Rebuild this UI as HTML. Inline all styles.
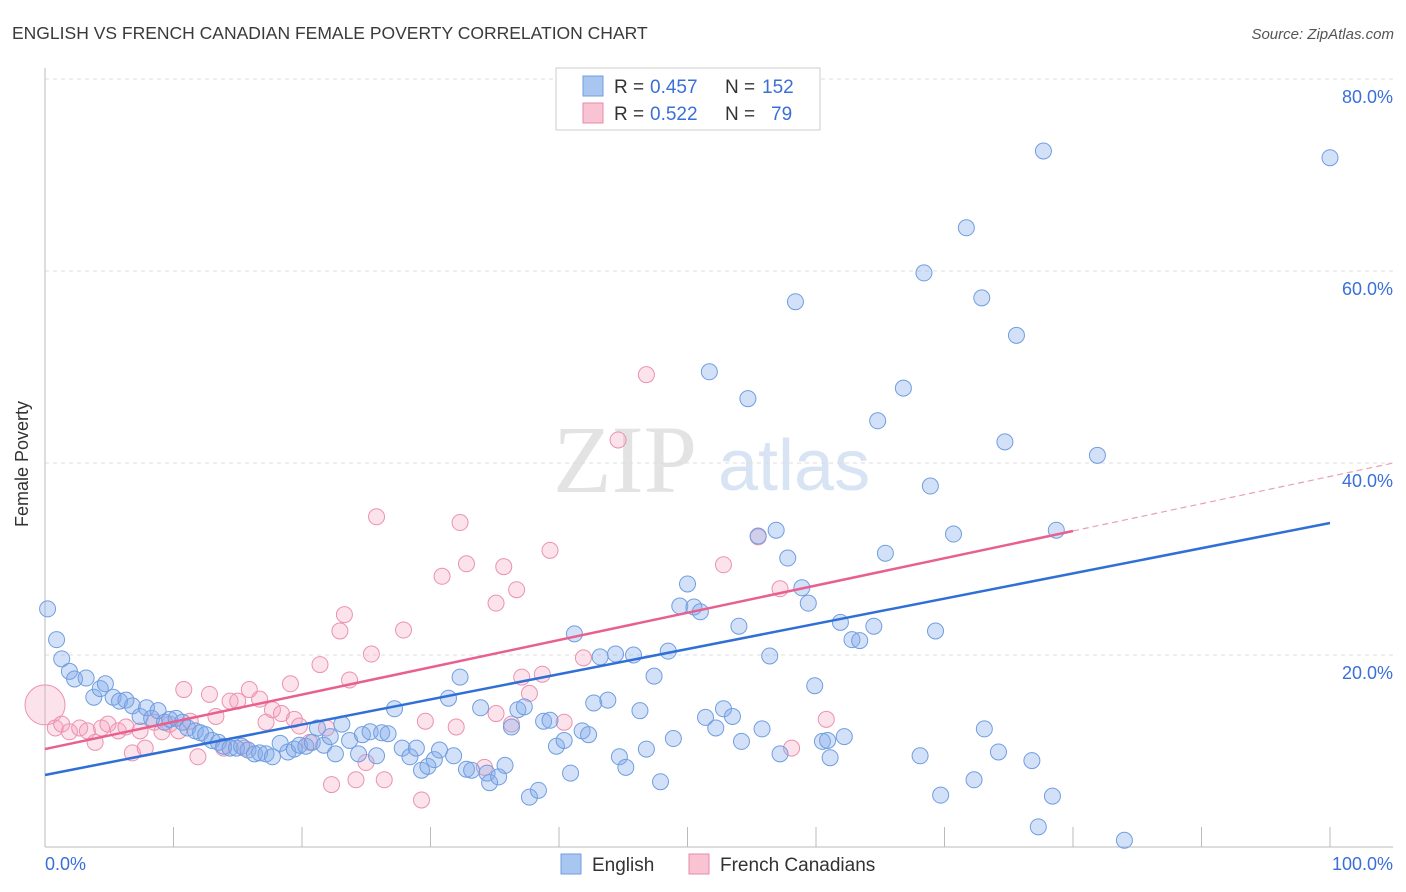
<!DOCTYPE html>
<html><head><meta charset="utf-8"><style>
body{margin:0;background:#fff;font-family:"Liberation Sans",sans-serif;}
svg{display:block}
</style></head><body>
<svg id="chart" width="1406" height="892" xmlns="http://www.w3.org/2000/svg">
<text x="12" y="39" font-size="17.5" fill="#3a3a3a">ENGLISH VS FRENCH CANADIAN FEMALE POVERTY CORRELATION CHART</text>
<text x="1394" y="39" font-size="15" fill="#555" font-style="italic" text-anchor="end">Source: ZipAtlas.com</text>
<g>
<text x="553" y="492" font-size="96" font-family="Liberation Serif,serif" fill="#e3e3e3">ZIP</text>
<text x="718" y="490" font-size="72" fill="#d8e4f3">atlas</text>
</g>
<g id="grid"></g>
<g id="axes"></g>
<g id="pinkPts"></g>
<g id="bluePts"></g>
<g id="lines"></g>
<text x="20" y="456" font-size="18" fill="#333" transform="rotate(-90 28 456)" text-anchor="middle">Female Poverty</text>
<g>
<rect x="556" y="68" width="264" height="62" fill="#fff" stroke="#ccc"/>
<rect x="583" y="76" width="20" height="20" fill="#a9c6f1" stroke="#6f9ee0"/>
<rect x="583" y="103" width="20" height="20" fill="#f8c3d3" stroke="#e98aaa"/>
<text x="614" y="93" font-size="19" fill="#333">R =</text>
<text x="650" y="93" font-size="19" fill="#3a6fd8">0.457</text>
<text x="725" y="93" font-size="19" fill="#333">N =</text>
<text x="762" y="93" font-size="19" fill="#3a6fd8">152</text>
<text x="614" y="120" font-size="19" fill="#333">R =</text>
<text x="650" y="120" font-size="19" fill="#3a6fd8">0.522</text>
<text x="725" y="120" font-size="19" fill="#333">N =</text>
<text x="771" y="120" font-size="19" fill="#3a6fd8">79</text>
</g>
<g>
<rect x="561" y="854" width="20" height="20" fill="#a9c6f1" stroke="#6f9ee0"/>
<text x="592" y="871" font-size="19" fill="#333">English</text>
<rect x="689" y="854" width="20" height="20" fill="#f8c3d3" stroke="#e98aaa"/>
<text x="720" y="871" font-size="19" fill="#333">French Canadians</text>
</g>
</svg>
<script>
const blueX=[0.2,0.9,1.3,1.9,2.3,3.2,3.8,4.3,4.7,5.3,5.8,6.3,6.8,7.4,7.9,8.3,8.8,9.3,9.7,10.2,10.7,11.1,11.7,12.1,12.5,13.0,13.5,13.9,14.4,14.9,15.3,15.8,16.3,16.7,17.2,17.7,18.3,18.9,19.4,19.8,20.3,20.8,21.2,21.7,22.2,22.6,23.1,23.7,24.4,24.7,25.3,25.8,26.2,26.7,27.2,27.8,28.4,28.9,29.3,29.8,30.3,30.7,31.4,31.8,32.3,32.8,33.2,33.9,34.4,34.6,35.3,35.8,36.3,36.8,37.3,37.7,38.4,38.8,39.3,39.8,40.4,40.9,41.2,41.8,42.3,42.7,43.2,43.8,44.4,44.7,45.2,45.8,46.3,46.8,47.4,47.9,48.5,48.9,49.4,50.0,50.5,51.0,51.4,51.7,52.2,52.8,53.5,54.0,54.2,54.7,55.5,55.8,56.4,56.9,57.2,57.8,58.4,58.9,59.4,59.9,60.5,60.9,61.1,61.9,62.2,62.8,63.4,64.5,64.8,65.4,66.8,68.1,68.4,68.9,69.3,69.7,70.7,71.7,72.3,72.9,73.1,74.2,74.7,75.6,76.8,77.3,77.7,78.4,78.7,81.9,84.0,100];
const blueY=[24.8,21.6,19.6,18.3,17.5,17.6,15.6,16.5,17.0,15.6,15.2,15.3,14.7,13.6,14.5,13.4,14.2,13.0,13.3,13.4,13.0,12.4,12.1,11.9,11.7,11.1,10.9,10.5,10.3,10.3,10.5,10.1,9.7,9.8,9.7,9.4,10.8,9.9,10.2,10.6,10.5,10.9,12.4,10.6,11.5,9.7,12.8,11.1,9.7,11.7,12.0,9.5,11.9,11.8,14.4,10.3,9.4,10.3,8.0,8.4,9.1,10.1,15.5,9.5,17.7,8.1,8.0,14.5,7.7,6.7,7.3,8.5,12.5,14.3,14.6,5.2,5.9,13.1,13.2,10.5,11.1,7.7,22.2,12.1,11.7,15.0,19.8,15.3,20.1,9.4,8.3,20.0,14.2,10.2,17.8,6.8,20.4,11.3,25.1,27.4,25.0,24.5,13.5,49.5,12.4,14.4,13.6,23.0,11.0,46.7,32.4,12.3,19.9,33.0,9.7,30.1,56.8,27.0,25.4,16.8,11.0,11.1,9.3,23.4,11.5,21.6,21.5,23.0,44.4,30.6,47.8,9.5,59.8,37.6,22.5,5.4,32.6,64.5,7.0,57.2,12.3,9.9,42.2,53.3,9.0,2.1,72.5,5.3,33.0,40.8,0.7,71.8];
const pinkX=[0,0.8,1.3,1.9,2.7,3.3,3.9,4.4,4.9,5.7,6.3,6.8,7.4,7.8,8.5,9.1,9.7,10.4,10.8,11.3,11.9,12.8,13.3,13.9,14.4,15.0,15.5,15.9,16.7,17.2,17.7,18.4,19.1,19.4,19.8,20.6,21.4,21.9,22.3,22.95,23.3,23.7,24.2,24.98,25.4,25.8,26.4,27.9,29.3,29.6,30.9,32.0,32.3,32.8,35.1,35.1,35.7,36.3,36.7,37.1,37.7,38.7,39.3,40.4,41.9,44.6,46.8,52.8,55.5,57.2,58.1,60.8,34.2];
const pinkY=[14.8,12.4,12.8,12.0,12.4,12.1,10.9,12.4,12.8,12.1,12.5,9.8,12.1,10.3,13.0,12.0,12.8,12.1,16.4,13.1,9.4,15.9,13.6,10.3,15.2,15.2,10.3,16.4,15.4,13.0,14.3,13.9,17.0,13.3,12.6,10.9,19.0,12.4,6.5,22.5,24.2,17.4,7.0,8.8,20.1,34.4,7.0,22.6,4.9,13.1,28.2,12.5,33.8,29.5,13.9,25.4,29.2,12.8,26.8,17.7,16.0,18.0,30.9,13.0,19.7,42.4,49.2,29.4,32.3,26.9,10.3,13.3,8.3];
const yTicks=[20,40,60,80];
const yTickLabels=["20.0%","40.0%","60.0%","80.0%"];
const xTicks=[10,20,30,40,50,60,70,80,90,100];
const blueTrend=[7.5,33.75];
const pinkTrend=[10.2,38.6];
const NS="http://www.w3.org/2000/svg";
const X0=45,X1=1330,Y0=847,YS=9.6;
const sx=v=>X0+(X1-X0)*v/100;
const sy=v=>Y0-v*YS;
function mk(tag,attrs,parent){const e=document.createElementNS(NS,tag);for(const k in attrs)e.setAttribute(k,attrs[k]);parent.appendChild(e);return e;}
const grid=document.getElementById('grid'),axes=document.getElementById('axes');
yTicks.forEach((t,i)=>{
 const l=mk('line',{x1:X0,x2:1393,y1:sy(t),y2:sy(t),stroke:'#ddd','stroke-dasharray':'4,4'},grid);
 
 
 const tx=mk('text',{x:1393,y:sy(t)+24,'font-size':18,fill:'#3a6fd8','text-anchor':'end'},axes);
 tx.textContent=yTickLabels[i];
 
 
});
const yl=mk('line',{x1:X0,x2:X0,y1:68,y2:Y0,stroke:'#bbb'},axes);


const xl=mk('line',{x1:X0,x2:1393,y1:Y0,y2:Y0,stroke:'#bbb'},axes);


xTicks.forEach(t=>{
 const l=mk('line',{x1:sx(t),x2:sx(t),y1:827,y2:Y0,stroke:'#bbb'},axes);
 
 
});
const xa=mk('text',{x:45,y:870,'font-size':18,fill:'#3a6fd8'},axes);xa.textContent='0.0%';


const xb=mk('text',{x:1393,y:870,'font-size':18,fill:'#3a6fd8','text-anchor':'end'},axes);xb.textContent='100.0%';


const pg=document.getElementById('pinkPts');
pinkX.forEach((x,i)=>{
 const c=mk('circle',{cx:sx(x),cy:sy(pinkY[i]),r:i===0?20:8,fill:'rgba(244,160,188,0.3)',stroke:'#eb92b0','stroke-width':1},pg);
 
 
});
const bg=document.getElementById('bluePts');
blueX.forEach((x,i)=>{
 const c=mk('circle',{cx:sx(x),cy:sy(blueY[i]),r:8,fill:'rgba(130,170,235,0.35)',stroke:'#6f9ee0','stroke-width':1},bg);
 
 
});
const lg=document.getElementById('lines');
const bl=mk('line',{x1:sx(0),y1:sy(blueTrend[0]),x2:sx(100),y2:sy(blueTrend[1]),stroke:'#2f6fd6','stroke-width':2.5},lg);


const pAt=v=>pinkTrend[0]+(pinkTrend[1]-pinkTrend[0])*v/100;
const pl=mk('line',{x1:sx(0),y1:sy(pAt(0)),x2:sx(80),y2:sy(pAt(80)),stroke:'#e8608e','stroke-width':2.5},lg);


const pd=mk('line',{x1:sx(80),y1:sy(pAt(80)),x2:sx(105),y2:sy(pAt(105)),stroke:'#e8a0b8','stroke-width':1.2,'stroke-dasharray':'6,4'},lg);


</script>
</body></html>
